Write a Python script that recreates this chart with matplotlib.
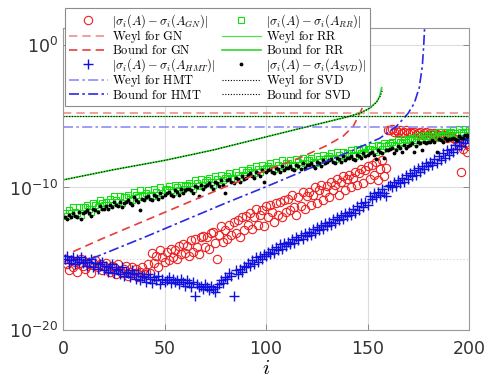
import numpy as np
import matplotlib
matplotlib.use("Agg")
import matplotlib.pyplot as plt
from matplotlib.ticker import FixedLocator, FixedFormatter, NullFormatter

plt.rcParams['font.family'] = ['DejaVu Sans']
plt.rcParams['mathtext.fontset'] = 'dejavusans'

# index i = 1..200
idx = np.arange(1, 201)

# log10 |sigma_i(A) - sigma_i(A_RR)|
rr_log = [
    -11.8,-12.0,-11.6,-11.8,-11.4,-11.7,-11.8,-11.4,-11.9,-11.4,
    -11.4,-11.2,-11.5,-11.7,-11.1,-11.2,-11.4,-10.9,-11.1,-11.2,
    -11.0,-11.2,-10.8,-11.0,-10.6,-10.9,-11.0,-10.6,-11.1,-10.7,
    -10.7,-10.5,-10.8,-10.9,-10.3,-10.5,-10.7,-10.2,-10.5,-10.6,
    -10.4,-10.2,-10.5,-10.6,-10.1,-10.3,-10.5,-10.0,-10.4,-10.2,
    -10.1,-9.9,-10.2,-10.3,-9.8,-10.0,-10.2,-9.8,-10.1,-9.9,
    -9.8,-9.7,-9.9,-10.1,-9.5,-9.7,-9.9,-9.4,-9.8,-9.6,
    -9.5,-9.3,-9.6,-9.8,-9.2,-9.4,-9.6,-9.1,-9.5,-9.3,
    -9.2,-9.0,-9.3,-9.4,-8.9,-9.1,-9.3,-8.8,-9.1,-8.9,
    -8.8,-8.6,-8.9,-9.0,-8.5,-8.7,-8.9,-8.4,-8.7,-8.6,
    -8.5,-8.3,-8.6,-8.7,-8.2,-8.4,-8.6,-8.1,-8.5,-8.3,
    -8.3,-8.1,-8.4,-8.5,-8.0,-8.2,-8.4,-7.9,-8.3,-8.1,
    -8.1,-7.9,-8.2,-8.3,-7.8,-8.0,-8.2,-7.7,-8.0,-7.9,
    -7.8,-7.6,-7.9,-8.0,-7.5,-7.7,-7.9,-7.5,-7.8,-7.6,
    -7.6,-7.4,-7.7,-7.8,-7.3,-7.4,-7.6,-7.2,-7.5,-7.3,
    -7.3,-7.1,-7.4,-7.5,-7.0,-7.1,-7.3,-6.9,-7.1,-7.0,
    -6.9,-6.8,-7.0,-7.1,-6.7,-6.8,-6.9,-6.6,-6.8,-6.7,
    -6.6,-6.5,-6.7,-6.8,-6.4,-6.5,-6.6,-6.3,-6.5,-6.4,
    -6.4,-6.2,-6.4,-6.5,-6.1,-6.3,-6.4,-6.1,-6.3,-6.2,
    -6.1,-6.0,-6.2,-6.3,-5.9,-6.1,-6.2,-5.9,-6.1,-6.0,
]

# log10 |sigma_i(A) - sigma_i(A_SVD)|
svd_log = [
    -12.1,-12.2,-11.9,-12.1,-11.8,-12.0,-12.1,-11.7,-12.2,-11.8,
    -11.7,-11.6,-11.8,-12.0,-11.5,-11.6,-11.7,-11.3,-11.5,-11.5,
    -11.3,-11.5,-11.2,-11.4,-11.0,-11.2,-11.3,-11.0,-11.4,-11.1,
    -11.0,-10.9,-11.1,-11.2,-10.7,-10.9,-11.0,-11.6,-10.8,-10.9,
    -10.7,-10.6,-10.8,-10.9,-10.5,-10.6,-10.8,-10.4,-10.7,-10.5,
    -10.4,-10.3,-10.5,-10.6,-10.2,-10.3,-10.5,-10.1,-10.4,-10.2,
    -10.1,-10.1,-10.2,-10.4,-9.9,-10.0,-10.6,-9.8,-10.1,-9.9,
    -9.8,-9.7,-9.9,-10.1,-9.6,-9.7,-9.9,-9.5,-9.8,-10.4,
    -9.5,-9.4,-9.6,-9.7,-9.3,-9.4,-9.6,-9.2,-9.4,-9.3,
    -9.1,-9.0,-9.2,-9.3,-8.9,-9.0,-9.2,-8.8,-9.6,-8.9,
    -8.8,-8.7,-8.9,-9.0,-8.6,-8.7,-8.9,-8.5,-8.8,-8.6,
    -8.6,-8.5,-8.7,-8.8,-8.4,-8.5,-8.7,-8.3,-8.6,-8.4,
    -8.4,-8.3,-8.5,-8.6,-8.2,-8.3,-8.5,-8.1,-8.3,-8.2,
    -8.1,-8.0,-8.2,-8.3,-7.9,-8.0,-8.2,-7.8,-8.1,-7.9,
    -7.9,-7.8,-8.0,-8.1,-7.7,-7.8,-7.9,-7.6,-7.8,-7.7,
    -7.6,-7.5,-7.7,-8.0,-7.4,-7.5,-7.6,-7.9,-7.4,-7.4,
    -7.3,-7.2,-7.6,-7.4,-7.1,-7.2,-7.5,-7.0,-7.2,-7.1,
    -7.0,-6.9,-7.5,-7.1,-6.8,-6.9,-7.4,-6.8,-6.9,-6.8,
    -6.8,-6.7,-6.8,-7.5,-6.6,-6.7,-6.8,-6.5,-6.7,-6.6,
    -6.6,-6.5,-6.6,-6.7,-6.4,-6.5,-6.5,-6.3,-6.4,-6.3,
]

# log10 |sigma_i(A) - sigma_i(A_GN)|
gn_log = [
    -15.0,-15.4,-15.8,-15.1,-15.6,-15.2,-15.9,-15.3,-15.0,-15.5,
    -15.7,-15.2,-15.4,-16.0,-15.3,-15.1,-15.6,-15.4,-15.8,-15.5,
    -15.3,-15.7,-15.9,-15.5,-15.6,-16.1,-15.4,-15.8,-16.0,-15.7,
    -15.5,-16.2,-15.9,-15.6,-16.0,-15.7,-16.3,-15.9,-15.6,-16.1,
    -15.9,-15.4,-16.0,-14.6,-15.3,-14.8,-15.6,-14.4,-14.9,-15.2,
    -14.5,-15.1,-14.3,-14.9,-14.4,-15.0,-14.1,-14.7,-14.0,-14.6,
    -14.1,-14.8,-13.7,-14.5,-13.6,-14.2,-14.7,-13.5,-13.4,-14.2,
    -13.5,-14.3,-13.2,-13.1,-13.9,-15.0,-13.3,-12.7,-13.8,-13.0,
    -13.6,-12.6,-13.3,-12.4,-13.2,-12.3,-13.5,-12.1,-13.0,-12.0,
    -12.6,-11.8,-12.9,-12.1,-11.5,-12.6,-11.9,-11.6,-12.7,-11.3,
    -12.1,-11.2,-11.7,-12.4,-11.1,-11.9,-11.0,-12.1,-10.9,-11.7,
    -10.8,-11.6,-10.5,-11.4,-11.9,-10.7,-11.3,-10.3,-11.5,-10.6,
    -10.3,-11.2,-10.5,-10.0,-11.1,-10.2,-9.8,-10.9,-10.3,-9.9,
    -10.7,-9.6,-10.2,-9.8,-9.4,-10.5,-9.6,-9.2,-10.2,-9.4,
    -9.1,-10.0,-9.3,-8.9,-9.8,-9.0,-8.7,-9.7,-8.8,-8.5,
    -9.4,-8.4,-9.1,-8.2,-9.5,-8.7,-8.1,-9.2,-8.6,-6.0,
    -6.0,-5.9,-6.1,-6.0,-6.1,-6.0,-6.2,-6.1,-6.0,-6.2,
    -6.1,-6.2,-6.1,-6.3,-6.2,-6.1,-6.3,-6.2,-6.1,-6.3,
    -6.2,-6.3,-6.2,-6.4,-6.3,-6.2,-6.4,-6.3,-6.5,-6.4,
    -6.4,-6.5,-6.6,-6.8,-7.0,-8.9,-7.3,-6.9,-7.5,-7.1,
]

# log10 |sigma_i(A) - sigma_i(A_HMT)|
hmt_log = [
    -15.0,-14.8,-15.3,-15.1,-14.9,-15.4,-15.0,-15.2,-14.9,-15.3,
    -15.1,-15.5,-15.2,-15.0,-15.6,-15.3,-15.7,-15.4,-15.2,-15.8,
    -15.5,-15.9,-15.6,-15.4,-16.0,-15.7,-15.8,-16.1,-15.6,-16.2,
    -15.9,-16.0,-16.3,-15.8,-16.1,-16.4,-16.0,-16.5,-16.2,-16.3,
    -16.6,-16.1,-16.4,-16.7,-16.3,-16.5,-16.2,-16.8,-16.4,-16.6,
    -16.5,-16.3,-16.7,-16.4,-16.6,-16.5,-16.8,-16.4,-16.6,-16.9,
    -16.5,-16.7,-17.0,-16.6,-17.6,-16.8,-17.0,-16.9,-17.1,-16.8,
    -17.0,-17.2,-16.9,-17.1,-17.3,-17.0,-16.8,-16.5,-16.7,-16.3,
    -16.4,-16.0,-16.2,-17.6,-15.8,-16.1,-15.7,-15.9,-15.5,-15.6,
    -15.3,-15.5,-15.1,-15.4,-14.9,-15.2,-14.8,-15.0,-14.7,-14.8,
    -14.5,-14.7,-14.3,-14.6,-14.2,-14.4,-14.0,-14.3,-13.9,-14.1,
    -13.8,-14.0,-13.6,-13.9,-13.5,-13.7,-13.3,-13.6,-13.2,-13.4,
    -13.1,-13.3,-12.9,-13.2,-12.8,-13.0,-12.6,-12.9,-12.5,-12.7,
    -12.4,-12.6,-12.2,-12.5,-12.1,-12.3,-11.9,-12.2,-11.8,-12.0,
    -11.7,-11.9,-11.5,-11.8,-11.3,-11.6,-11.1,-11.4,-11.0,-11.2,
    -10.6,-10.8,-10.4,-10.7,-10.3,-10.5,-10.1,-10.4,-10.6,-9.9,
    -9.8,-10.0,-9.6,-9.9,-9.5,-9.7,-9.3,-9.6,-9.1,-9.4,
    -9.0,-9.2,-8.8,-9.1,-8.6,-8.9,-8.5,-8.7,-8.3,-8.5,
    -8.2,-8.4,-8.0,-8.3,-7.8,-8.1,-7.6,-7.9,-7.4,-7.7,
    -7.3,-7.5,-7.0,-7.3,-6.8,-7.1,-6.6,-6.9,-6.5,-6.7,
]

# Weyl bounds (constant levels, log10)
weyl_x = [0, 200]
weyl_gn_log = [-4.78, -4.78]
weyl_rr_log = [-5.0, -5.0]
weyl_svd_log = [-5.0, -5.0]
weyl_hmt_log = [-5.73, -5.73]

# Bound curves (read at sample positions)
bgn_i   = [5, 20, 40, 60, 80, 100, 117, 130, 138, 143, 146, 148.5, 149.5, 150.2, 150.8]
bgn_log = [-14.5, -13.55, -12.35, -11.15, -9.95, -8.8, -7.9, -7.05, -6.4, -5.7, -4.85, -4.1, -3.4, -2.2, 1.3]

brr_i   = [0, 25, 50, 74, 100, 117, 130, 140, 146, 151, 154.5, 156, 157]
brr_log = [-9.47, -8.75, -8.1, -7.37, -6.45, -5.85, -5.4, -5.05, -4.8, -4.45, -4.0, -3.6, -3.0]

bsvd_i   = [0, 25, 50, 74, 100, 117, 130, 140, 146, 151, 154.5, 156.3, 157.6]
bsvd_log = [-9.47, -8.75, -8.1, -7.37, -6.45, -5.85, -5.4, -5.05, -4.8, -4.45, -4.0, -3.6, -3.1]

bhmt_i   = [14, 40, 60, 80, 100, 120, 141, 156, 164, 170, 173, 175.5, 177, 177.7, 178.2]
bhmt_log = [-15.0, -13.5, -12.3, -11.1, -9.95, -8.75, -7.5, -6.55, -5.75, -4.8, -4.1, -3.0, -1.5, 0.0, 1.4]

fig = plt.figure(figsize=(4.87, 3.86), dpi=100)
ax = fig.add_axes([63/487, 1-330/386, (469-63)/487, (330-28)/386])
ax.set_yscale('log')

p = lambda a: 10.0 ** np.asarray(a)

red = '#ee2020'
green = '#10e010'
blue = '#1010e0'

h_gn, = ax.plot(idx, p(gn_log), 'o', mfc='none', mec=red, ms=6, mew=0.8, ls='none')
h_rr, = ax.plot(idx, p(rr_log), 's', mfc='none', mec=green, ms=4.5, mew=0.8, ls='none')
h_hmt, = ax.plot(idx, p(hmt_log), '+', color=blue, ms=7, mew=1.0, ls='none')
h_svd, = ax.plot(idx, p(svd_log), '.', color='black', ms=3.5, ls='none')

h_wgn, = ax.plot(weyl_x, p(weyl_gn_log), color='#f08c8c', ls=(0, (5, 3)), lw=1.2)
h_bgn, = ax.plot(bgn_i, p(bgn_log), color='#e83c3c', ls=(0, (5, 3)), lw=1.2)
h_wrr, = ax.plot(weyl_x, p(weyl_rr_log), color='#50e050', ls='-', lw=0.9)
h_brr, = ax.plot(brr_i, p(brr_log), color='#30d830', ls='-', lw=1.2)
h_whmt, = ax.plot(weyl_x, p(weyl_hmt_log), color='#8c8cf4', ls=(0, (6, 2, 1.5, 2)), lw=1.2)
h_bhmt, = ax.plot(bhmt_i, p(bhmt_log), color='#2a2ae6', ls=(0, (6, 2, 1.5, 2)), lw=1.2)
h_wsvd, = ax.plot(weyl_x, p(weyl_svd_log), color='black', ls=(0, (1, 1.5)), lw=0.8)
h_bsvd, = ax.plot(bsvd_i, p(bsvd_log), color='black', ls=(0, (1, 1.5)), lw=0.8)

ax.set_xlim(0, 200)
ax.set_ylim(1e-20, 10 ** 1.19)

x_ticks = [0, 50, 100, 150, 200]
y_ticks = [1e-20, 1e-10, 1e0]
y_tick_labels = [r'$10^{-20}$', r'$10^{-10}$', r'$10^{0}$']
ax.set_xticks(x_ticks)
ax.yaxis.set_major_locator(FixedLocator(y_ticks))
ax.yaxis.set_major_formatter(FixedFormatter(y_tick_labels))
ax.yaxis.set_minor_locator(FixedLocator([1e-15, 1e-5]))
ax.yaxis.set_minor_formatter(NullFormatter())

ax.grid(True, which='major', color='#dcdcdc', lw=0.8, ls='-')
ax.grid(True, which='minor', axis='y', color='#d0d0d0', lw=0.8, ls=(0, (1, 2)))
ax.set_axisbelow(True)

ax.tick_params(axis='both', which='major', direction='in', length=4, width=0.7,
               top=True, right=True, labelsize=12.5, labelcolor='#333333', color='#888888')
ax.tick_params(axis='x', pad=7)
ax.tick_params(axis='y', which='minor', length=0)
for s in ax.spines.values():
    s.set_color('#9a9a9a')
    s.set_linewidth(0.8)

ax.set_xlabel(r'$i$', fontsize=15, math_fontfamily='cm', labelpad=0)

handles = [h_gn, h_wgn, h_bgn, h_hmt, h_whmt, h_bhmt,
           h_rr, h_wrr, h_brr, h_svd, h_wsvd, h_bsvd]
labels = [r'$|\sigma_i(A)-\sigma_i(A_{GN})|$', r'$\mathrm{Weyl\ for\ GN}$', r'$\mathrm{Bound\ for\ GN}$',
          r'$|\sigma_i(A)-\sigma_i(A_{HMT})|$', r'$\mathrm{Weyl\ for\ HMT}$', r'$\mathrm{Bound\ for\ HMT}$',
          r'$|\sigma_i(A)-\sigma_i(A_{RR})|$', r'$\mathrm{Weyl\ for\ RR}$', r'$\mathrm{Bound\ for\ RR}$',
          r'$|\sigma_i(A)-\sigma_i(A_{SVD})|$', r'$\mathrm{Weyl\ for\ SVD}$', r'$\mathrm{Bound\ for\ SVD}$']
leg = fig.legend(handles, labels, ncol=2, loc='upper left',
                 bbox_to_anchor=(65/487, 1-8/386), fontsize=9,
                 frameon=True, fancybox=False, framealpha=1, edgecolor='#8c8c8c',
                 borderpad=0.3, labelspacing=-0.12, handlelength=3.1, handletextpad=0.4,
                 columnspacing=0.5, borderaxespad=0)
leg.get_frame().set_linewidth(0.8)
for t in leg.get_texts():
    t.set_math_fontfamily('cm')

fig.savefig('out.png', dpi=100)
